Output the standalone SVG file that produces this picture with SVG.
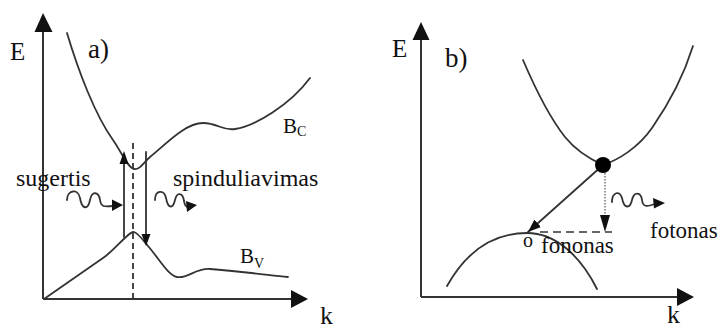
<svg xmlns="http://www.w3.org/2000/svg" width="722" height="329" viewBox="0 0 722 329">
<style>
  .ax{stroke:#333;stroke-width:2;fill:none}
  .cv{stroke:#333;stroke-width:1.8;fill:none;stroke-linecap:round;stroke-linejoin:round}
  .hd{fill:#111;stroke:none}
  text{fill:#111}
</style>
<defs>
  <marker id="ah" markerUnits="userSpaceOnUse" markerWidth="13" markerHeight="10" refX="13" refY="5" orient="auto">
    <path d="M0,0 L13,5 L0,10 z" fill="#111"/>
  </marker>
</defs>

<!-- Panel a -->
<g id="axes-a">
  <line class="ax" x1="43" y1="299" x2="43" y2="30"/>
  <polygon class="hd" points="43,13 34.5,32 52.5,32"/>
  <line class="ax" x1="43" y1="299" x2="292" y2="299"/>
  <polygon class="hd" points="308,299 291,290 291,308"/>
</g>
<g id="band-c-a">
  <path class="cv" d="M67,33 C78,70 95,115 113,140 C122,153 128,168 134,169 C140,170 143,163 150,157 C165,145 185,123 203,123 C218,123 222,131 235,129 C255,126 290,105 310,78"/>
</g>
<g id="band-v-a">
  <path class="cv" d="M44,299 L103,258 C112,252 120,242 126,237 C130,233 132,232 134,232 C138,233 143,240 148,246 C160,260 168,275 177,277 C188,279 195,268 210,269 C235,271 260,274 288,277"/>
</g>
<g id="connectors">
  <line x1="133" y1="143" x2="133" y2="299" stroke="#333" stroke-width="1.8" stroke-dasharray="6 4"/>
  <line class="cv" x1="124" y1="237" x2="124" y2="160"/>
  <polygon class="hd" points="124,151 119.5,164 128.5,164"/>
  <line class="cv" x1="146" y1="152" x2="146" y2="238"/>
  <polygon class="hd" points="146,246 141.5,234 150.5,234"/>
  <path class="cv" d="M67,200 C67,190 78,188 80,198 C82,210 88,210 90,200 C92,190 99,192 100,200 C101,207 104,207 113,206"/>
  <polygon class="hd" points="123,205 112,199.5 112,211"/>
  <path class="cv" d="M155,200 C155,190 164,189 166,198 C168,209 173,209 175,200 C177,191 183,193 184,201 C185,207 187,207 188,207"/>
  <polygon class="hd" points="197,205 186,201 187,212"/>
  <line class="cv" x1="603" y1="165" x2="528" y2="232" marker-end="url(#ah)"/>
  <line x1="605" y1="173" x2="605" y2="218" stroke="#555" stroke-width="1.2" stroke-dasharray="1.5 1.5"/>
  <polygon class="hd" points="605,232 600,215 610,215"/>
  <line x1="540" y1="232" x2="612" y2="232" stroke="#666" stroke-width="2" stroke-dasharray="8 5"/>
  <path class="cv" d="M612,202 C612,192 620,190 622,198 C624,209 630,209 632,200 C634,191 641,192 642,200 C643,207 646,207 655,204"/>
  <polygon class="hd" points="665,203 653,198 654,208.5"/>
</g>
<g id="labels-a" font-family="'Liberation Serif', 'Times New Roman', 'DejaVu Serif', serif">
  <text x="10" y="60" font-size="25">E</text>
  <text x="88" y="58" font-size="27">a)</text>
  <text x="320" y="324" font-size="26">k</text>
  <text x="16" y="186" font-size="24">sugertis</text>
  <text x="173" y="186" font-size="24">spinduliavimas</text>
  <text x="283" y="133" font-size="21">B<tspan font-size="14" dy="3">C</tspan></text>
  <text x="240" y="263" font-size="21">B<tspan font-size="14" dy="5">V</tspan></text>
</g>

<!-- Panel b -->
<g id="axes-b">
  <line class="ax" x1="421" y1="297" x2="421" y2="38"/>
  <polygon class="hd" points="421,22 412.5,40 429.5,40"/>
  <line class="ax" x1="421" y1="297" x2="679" y2="297"/>
  <polygon class="hd" points="694,297 677,288 677,306"/>
</g>
<g id="band-c-b">
  <path class="cv" d="M523,60 C535,88 550,118 565,137 C577,152 592,160 603,165 C618,160 638,148 652,128 C668,105 683,78 693,46"/>
</g>
<g id="band-v-b">
  <path class="cv" d="M447,286 C470,245 500,233 527,233 C555,233 580,255 597,289"/>
</g>
<g id="electron">
  <circle cx="603" cy="165" r="8" fill="#000"/>
</g>
<g id="labels-b" font-family="'Liberation Serif', 'Times New Roman', 'DejaVu Serif', serif">
  <text x="392" y="57" font-size="25">E</text>
  <text x="445" y="67" font-size="27">b)</text>
  <text x="667" y="323" font-size="26">k</text>
  <text x="650" y="238" font-size="23">fotonas</text>
  <text x="523" y="247" font-size="20">o</text>
  <text x="541" y="253" font-size="23">fononas</text>
</g>
</svg>
